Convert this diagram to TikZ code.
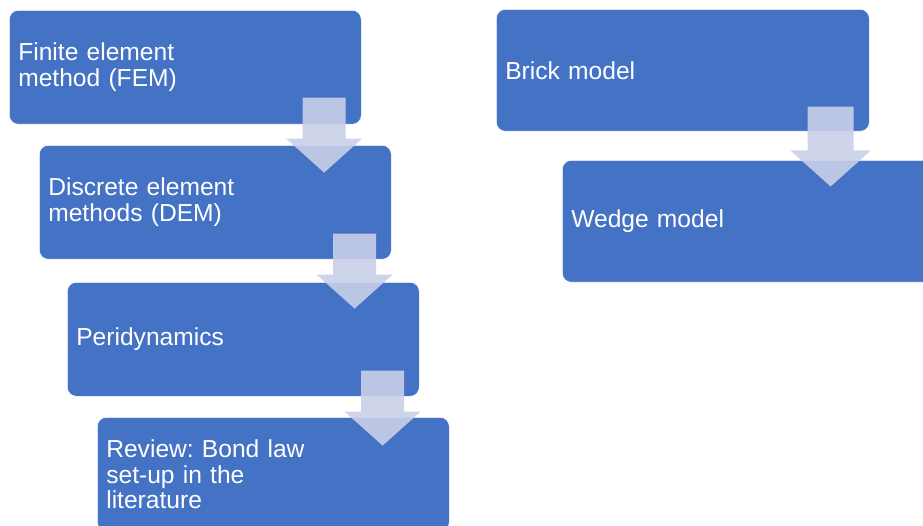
\documentclass[tikz,border=0pt]{standalone}
\usepackage{fontspec}
\setmainfont{Liberation Sans}
\usetikzlibrary{calc}
\frenchspacing

\definecolor{boxblue}{HTML}{4472C4}
\definecolor{arrowtint}{HTML}{C9D0E8}

\tikzset{
  stagebox/.style={
    rectangle, rounded corners=9pt, fill=boxblue, draw=white, line width=0.6pt,
    text=white, align=left, anchor=north west,
    inner xsep=9pt, inner ysep=0pt,
    font=\fontsize{24.6}{25.8}\selectfont
  },
  leftbox/.style={stagebox, text width=334pt, minimum height=114pt},
  rightbox/.style={stagebox, text width=355pt, minimum height=122pt},
  % downward block arrow, origin at the top centre of its shaft
  blockarrow/.pic={
    \fill[arrowtint, fill opacity=0.9]
      (-21.5,0) -- (21.5,0) -- (21.5,-41) -- (38,-41) -- (0,-75)
      -- (-38,-41) -- (-21.5,-41) -- cycle;
  }
}

\begin{document}
\begin{tikzpicture}[x=1pt, y=1pt]
  \useasboundingbox (0,0) rectangle (923,-526);

  % left chain of methods
  \node[leftbox] (fem)  at (9,-10)   {Finite element\\method (FEM)};
  \node[leftbox] (dem)  at (39,-145) {Discrete element\\methods (DEM)};
  \node[leftbox] (peri) at (67,-282) {Peridynamics};
  \node[leftbox] (rev)  at (97,-417) {Review: Bond law\\set-up in the\\literature};

  % right chain of models
  \node[rightbox] (brick) at (496,-9)   {Brick model};
  \node[rightbox] (wedge) at (562,-160) {Wedge model};

  % block arrows between consecutive boxes
  \coordinate (a1) at ($(fem.south east)+(-37.5,27)$);
  \coordinate (a2) at ($(dem.south east)+(-37,26)$);
  \coordinate (a3) at ($(peri.south east)+(-37,26)$);
  \coordinate (a4) at ($(brick.south east)+(-39,25)$);
  \pic at (a1) {blockarrow};
  \pic at (a2) {blockarrow};
  \pic at (a3) {blockarrow};
  \pic[scale=1.065] at (a4) {blockarrow};
\end{tikzpicture}
\end{document}
